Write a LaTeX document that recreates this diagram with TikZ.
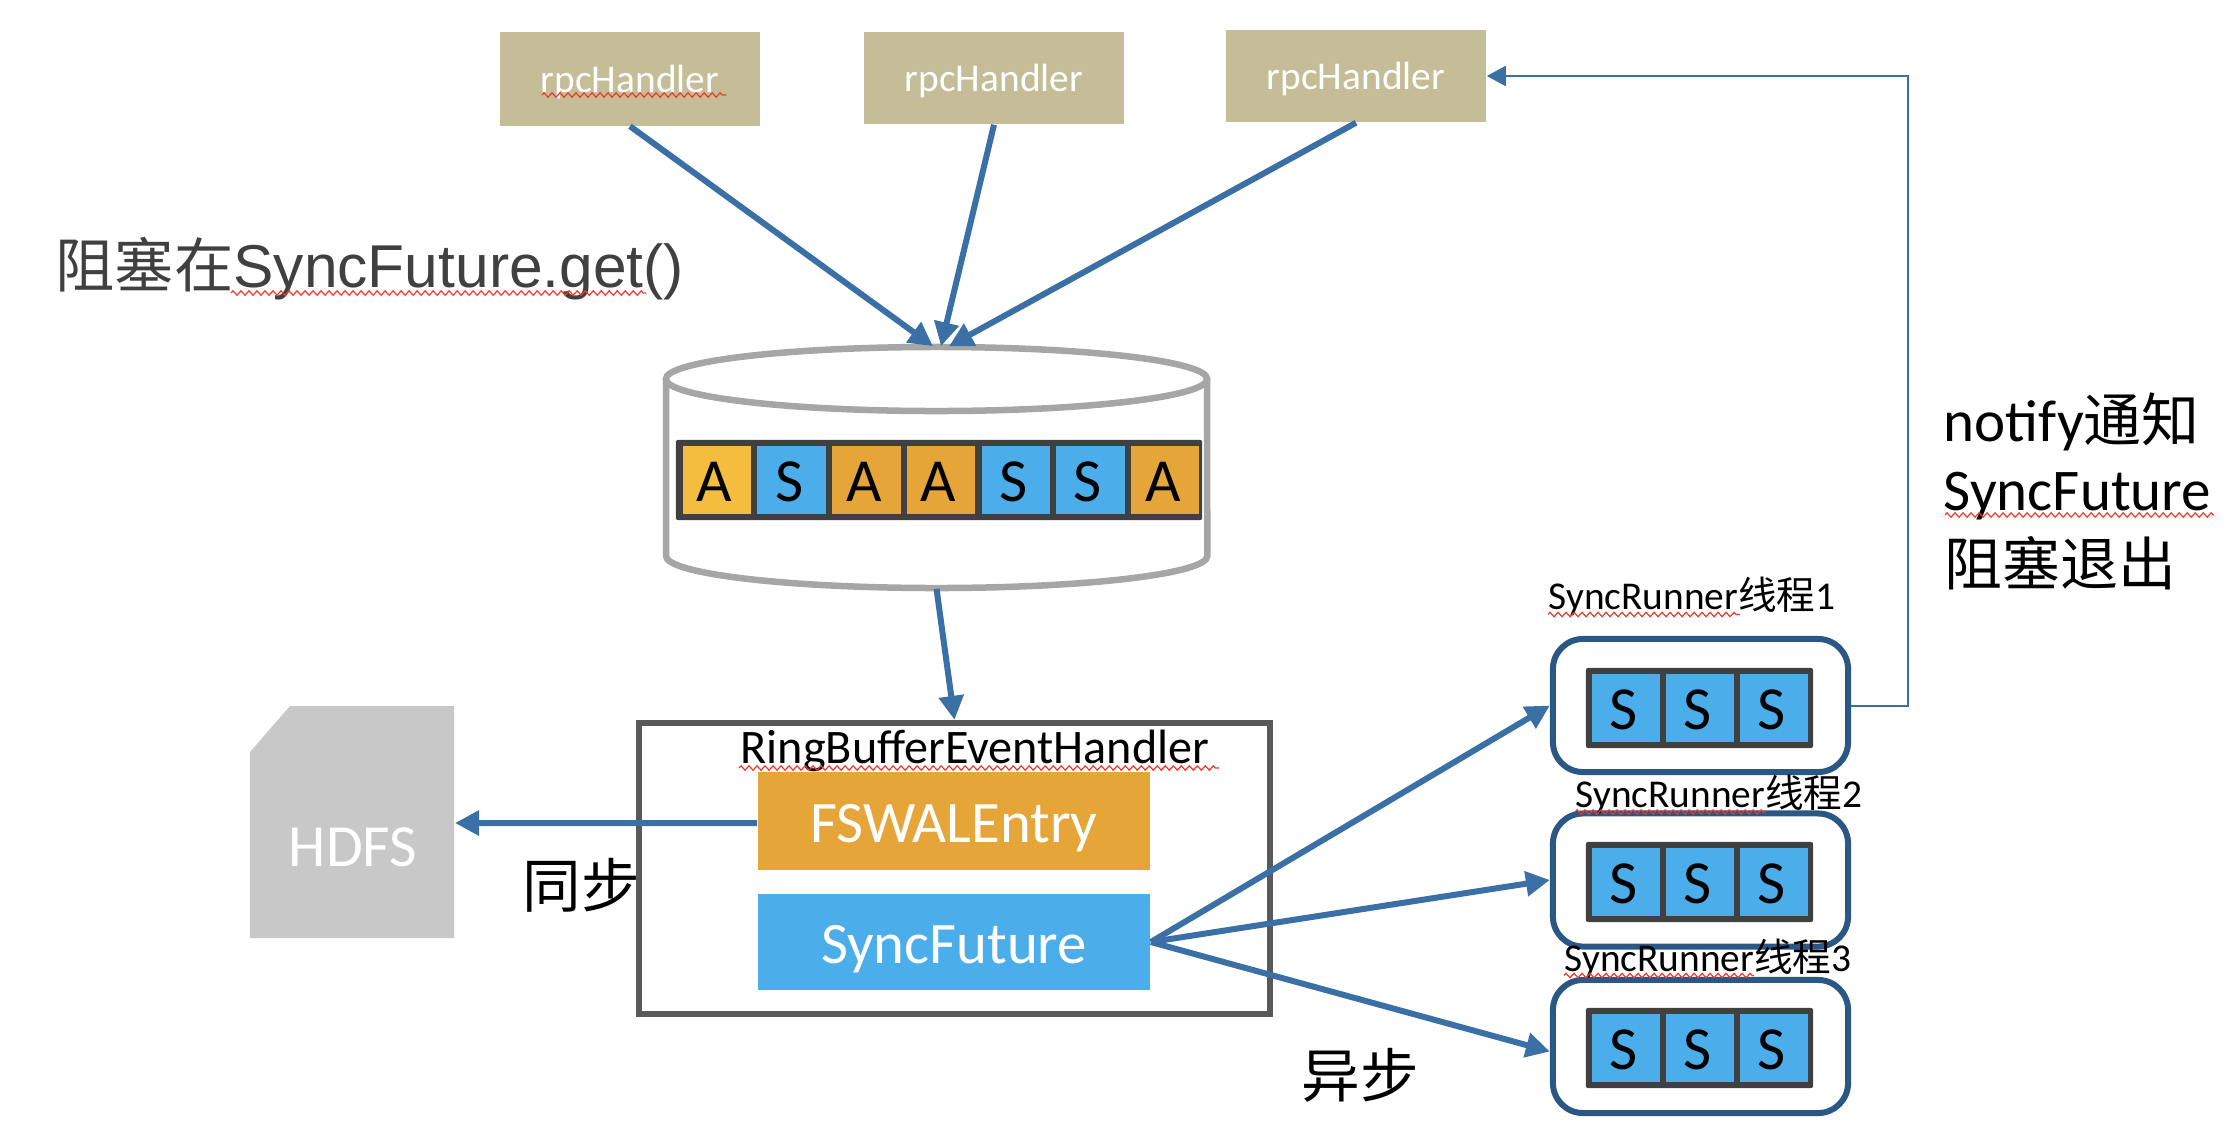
\documentclass[tikz,border=0pt]{standalone}
\usepackage{fontspec}
\setmainfont{Carlito}
\newfontfamily\arialfont{Liberation Sans}
\newfontfamily\cjk[Scale=0.98]{Noto Sans CJK SC}
\usetikzlibrary{arrows.meta,decorations.pathmorphing}

\definecolor{handlertan}{HTML}{C4BD97}
\definecolor{flowblue}{HTML}{3A70A6}
\definecolor{barblack}{HTML}{404040}
\definecolor{agold}{HTML}{F5BD3F}
\definecolor{aorange}{HTML}{E6A538}
\definecolor{sblue}{HTML}{4BAEEA}
\definecolor{runnerblue}{HTML}{2A5783}
\definecolor{hdfsgray}{HTML}{C8C8C8}
\definecolor{spellred}{HTML}{F0382B}

\newcommand{\fs}[1]{\fontsize{#1pt}{#1pt}\selectfont}

\tikzset{
  rpcbox/.style={fill=handlertan,text=white,minimum width=2.6cm,minimum height=.93cm,text height=.26cm,text depth=0cm,font=\fs{11.2}},
  bigbox/.style={text=white,minimum width=3.92cm,text height=.44cm,text depth=.02cm,font=\fs{16.7}},
  bar/.style={fill=barblack,rounded corners=.02cm,minimum height=.8cm},
  cell/.style={minimum width=.685cm,minimum height=.68cm,text height=.42cm,text depth=0cm,font=\fs{17.4}},
  runner/.style={draw=runnerblue,line width=.06cm,rounded corners=.3cm,minimum width=2.95cm,minimum height=1.33cm},
  tank/.style={draw=black!35,line width=.065cm},
  flow/.style={draw=flowblue,line width=.06cm,-{Triangle[length=.24cm,width=.24cm]}},
  notice/.style={draw=flowblue,line width=.02cm,-{Triangle[length=.19cm,width=.2cm]}},
  squiggle/.style={draw=spellred,line width=.012cm,decorate,decoration={zigzag,segment length=.08cm,amplitude=.022cm}},
}

\begin{document}
\begin{tikzpicture}
  [x=.01cm,y=-.01cm,every node/.style={inner sep=0pt}]
  \useasboundingbox (0,0) rectangle (2236,1130);

  \node[rpcbox] (rpca) at (630,79) {rpcHandler};
  \node[rpcbox,minimum height=.92cm] (rpcb) at (994,78) {rpcHandler};
  \node[rpcbox,minimum height=.92cm] (rpcc) at (1356,76) {rpcHandler};

  \node[anchor=base west,text=barblack,font=\arialfont\fs{17.2}] (blocked) at (55,287) {{\cjk 阻塞在}SyncFuture.get()};

  % the queue
  \node[minimum width=5.41cm,minimum height=2.41cm] (buffer) at (936.5,467.5) {};
  \draw[tank] (936.5,379) ellipse [x radius=2.705cm,y radius=.32cm];
  \draw[tank] (666,379) -- (666,556) arc [start angle=180,end angle=360,x radius=2.705cm,y radius=.32cm] -- (1207,379);
  \node[bar,minimum width=5.26cm] (queue) at (939,480) {};
  \foreach \i/\lbl/\col in {0/A/agold,1/S/sblue,2/A/aorange,3/A/aorange,4/S/sblue,5/S/sblue,6/A/aorange}
    \node[cell,fill=\col] (q\i) at ({717+74.7*\i},480) {\lbl\kern.05cm};

  % event handler
  \node[draw=black!65,line width=.06cm,minimum width=6.31cm,minimum height=2.91cm] (handler) at (954.5,868.5) {};
  \node[anchor=base west,font=\fs{13.7}] (ring) at (740,763) {RingBufferEventHandler};
  \node[bigbox,fill=aorange,minimum height=.98cm] (entry) at (954,821) {FSWALEntry};
  \node[bigbox,fill=sblue,minimum height=.96cm] (future) at (954,942) {SyncFuture};

  % hdfs
  \fill[hdfsgray] (290,706) -- (454,706) -- (454,938) -- (250,938) -- (250,752) -- cycle;
  \node[text=white,font=\fs{17}] (hdfs) at (353,847) {HDFS};
  \coordinate (hdfsin) at (455,823);

  % runners
  \foreach \n/\y/\by in {a/705.5/708,b/880/882,c/1046.5/1048} {
    \node[runner] (runner\n) at (1700.5,\y) {};
    \node[bar,minimum width=2.27cm] (slots\n) at (1699.5,\by) {};
    \foreach \i/\x in {1/1626,2/1700,3/1774}
      \node[cell,fill=sblue] (slot\n\i) at (\x,\by) {S\kern.05cm};
  }
  \node[anchor=base west,font=\fs{11.2}] (threada) at (1548,609) {SyncRunner{\cjk 线程}1};
  \node[anchor=base west,font=\fs{11.2}] (threadb) at (1575,807) {SyncRunner{\cjk 线程}2};
  \node[anchor=base west,font=\fs{11.2}] (threadc) at (1564,971) {SyncRunner{\cjk 线程}3};

  \node[anchor=base west,font=\fs{16.8}] (notifya) at (1943,441) {notify{\cjk 通知}};
  \node[anchor=base west,font=\fs{16.8}] (notifyb) at (1943,510) {SyncFuture};
  \node[anchor=base west,font=\fs{16.8}] (notifyc) at (1944,585) {\cjk 阻塞退出};
  \node[font=\fs{17}] (syncword) at (581,885) {\cjk 同步};
  \node[font=\fs{17}] (asyncword) at (1360,1075) {\cjk 异步};

  \draw[flow] (rpca.south) -- ([xshift=-.035cm]buffer.north);
  \draw[flow] (rpcb.south) -- ([xshift=.045cm]buffer.north);
  \draw[flow] (rpcc.south) -- ([xshift=.125cm]buffer.north);
  \draw[flow] (buffer.south) -- (handler.north);
  \draw[flow] ([yshift=-.02cm]entry.west) -- (hdfsin);
  \foreach \n in {runnera,runnerb}
    \draw[flow] (future.east) -- (\n.west);
  \draw[flow] (future.east) -- ([yshift=-.05cm]runnerc.west);

  \coordinate (bend) at (1908,76);
  \draw[notice] (runnera.east) -| (bend) -- (rpcc.east);

  % spell check marks
  \foreach \xa/\xb/\ya in {542/726/95,231/646/293,739/1219/768,1945/2214/515,1548/1740/614.5,1575/1766/812,1564/1754/975.5}
    \draw[squiggle] (\xa,\ya) -- (\xb,\ya);
\end{tikzpicture}
\end{document}
